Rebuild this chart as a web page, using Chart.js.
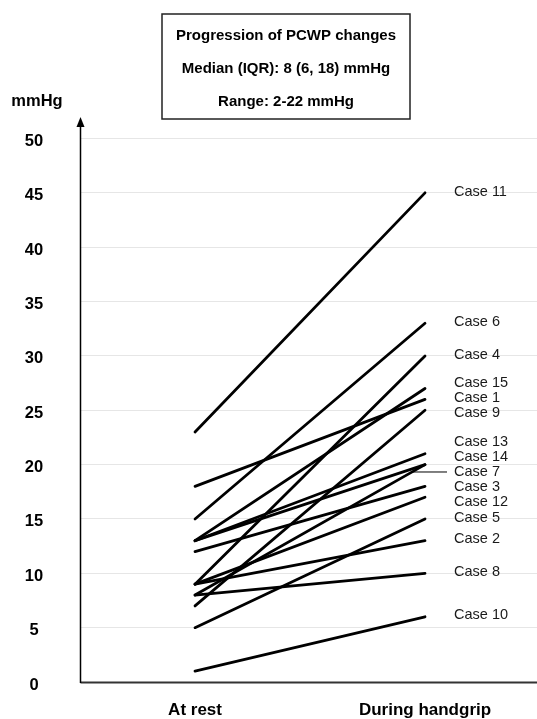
<!DOCTYPE html>
<html>
<head>
<meta charset="utf-8">
<script src="https://cdn.jsdelivr.net/npm/chart.js@4"></script>
<style>
  html, body { margin: 0; padding: 0; background: #fff; overflow: hidden; }
  #wrap { width: 537px; height: 719px; position: relative; }
</style>
</head>
<body>
<div id="wrap"><canvas id="chart"></canvas></div>
<script>
const stages = ['At rest', 'During handgrip'];
const cases = ['Case 1', 'Case 2', 'Case 3', 'Case 4', 'Case 5', 'Case 6', 'Case 7', 'Case 8',
  'Case 9', 'Case 10', 'Case 11', 'Case 12', 'Case 13', 'Case 14', 'Case 15'];
const atRest = [18, 9, 12, 9, 5, 15, 8, 8, 7, 1, 23, 9, 13, 13, 13];
const duringHandgrip = [26, 13, 18, 30, 15, 33, 20, 10, 25, 6, 45, 17, 21, 20, 27];
const yTicks = [0, 5, 10, 15, 20, 25, 30, 35, 40, 45, 50];
const titleLines = ['Progression of PCWP changes', 'Median (IQR): 8 (6, 18) mmHg', 'Range: 2-22 mmHg'];
const yUnit = 'mmHg';
const leaderCases = ['Case 7'];

const FONT = "'Liberation Sans', Arial, sans-serif";

const datasets = cases.map((name, i) => ({
  label: name,
  data: [{ x: 0, y: atRest[i] }, { x: 1, y: duringHandgrip[i] }],
  borderColor: '#000',
  borderWidth: 2.8,
  borderCapStyle: 'round',
  pointRadius: 0,
  fill: false,
  clip: false
}));

const decorations = {
  id: 'decorations',
  afterDraw(chart) {
    const ctx = chart.ctx;
    const { left, right, top, bottom } = chart.chartArea;
    const xs = chart.scales.x, ys = chart.scales.y;
    ctx.save();

    // x axis
    ctx.strokeStyle = '#333';
    ctx.lineWidth = 2;
    ctx.beginPath();
    ctx.moveTo(left, bottom + 0.5);
    ctx.lineTo(right, bottom + 0.5);
    ctx.stroke();

    // y axis with arrow
    ctx.strokeStyle = '#000';
    ctx.lineWidth = 1.5;
    ctx.beginPath();
    ctx.moveTo(left, bottom + 1);
    ctx.lineTo(left, 124);
    ctx.stroke();
    ctx.fillStyle = '#000';
    ctx.beginPath();
    ctx.moveTo(left, 117);
    ctx.lineTo(left - 4, 127);
    ctx.lineTo(left + 4, 127);
    ctx.closePath();
    ctx.fill();

    ctx.textAlign = 'center';
    ctx.textBaseline = 'middle';

    // y tick labels and unit
    ctx.font = 'bold 16.5px ' + FONT;
    yTicks.forEach(v => ctx.fillText(String(v), 34, ys.getPixelForValue(v) + 3));
    ctx.fillText(yUnit, 37, 101);

    // x category labels
    ctx.font = 'bold 17px ' + FONT;
    stages.forEach((s, i) => ctx.fillText(s, xs.getPixelForValue(i), bottom + 28));

    // title box
    ctx.lineWidth = 1.5;
    ctx.strokeStyle = '#222';
    ctx.strokeRect(162, 14, 248, 105);
    ctx.font = 'bold 15px ' + FONT;
    titleLines.forEach((t, i) => ctx.fillText(t, 286, 36 + i * 33));

    // case labels, spread so they do not overlap
    const gap = 15;
    const order = cases.map((c, i) => i).sort((a, b) =>
      (duringHandgrip[b] - duringHandgrip[a]) || (atRest[b] - atRest[a]));
    const blocks = [];
    order.forEach(i => {
      const target = ys.getPixelForValue(duringHandgrip[i]);
      let blk = { items: [i], targets: [target], top: target };
      while (blocks.length) {
        const prev = blocks[blocks.length - 1];
        if (prev.top + prev.items.length * gap > blk.top) {
          blocks.pop();
          const items = prev.items.concat(blk.items);
          const targets = prev.targets.concat(blk.targets);
          const mean = targets.reduce((s, v) => s + v, 0) / targets.length;
          blk = { items, targets, top: mean - (items.length - 1) * gap / 2 };
        } else break;
      }
      blocks.push(blk);
    });
    const x0 = xs.getPixelForValue(0), x1 = xs.getPixelForValue(1);
    const labelX = x1 + 29;
    ctx.font = '14.5px ' + FONT;
    ctx.fillStyle = '#1a1a1a';
    ctx.textAlign = 'left';
    blocks.forEach(b => b.items.forEach((i, k) => {
      const ly = b.top + k * gap - 1.3;
      ctx.fillText(cases[i], labelX, ly);
      if (leaderCases.includes(cases[i])) {
        const v = ys.getValueForPixel(ly);
        const frac = (v - atRest[i]) / (duringHandgrip[i] - atRest[i]);
        const lx = x0 + frac * (x1 - x0);
        ctx.strokeStyle = '#000';
        ctx.lineWidth = 1;
        ctx.beginPath();
        ctx.moveTo(lx, ly);
        ctx.lineTo(labelX - 7, ly);
        ctx.stroke();
      }
    }));
    ctx.restore();
  }
};

new Chart(document.getElementById('chart'), {
  type: 'line',
  data: { datasets },
  options: {
    responsive: true,
    maintainAspectRatio: false,
    animation: false,
    layout: { padding: { top: 138.5, left: 80.5, right: 0, bottom: 37 } },
    plugins: { legend: { display: false }, tooltip: { enabled: false } },
    scales: {
      x: {
        type: 'linear',
        display: false,
        min: -0.498,
        max: 1.487
      },
      y: {
        min: 0,
        max: 50,
        afterBuildTicks: s => { s.ticks = yTicks.map(v => ({ value: v })); },
        grid: { color: '#e6e6e6', lineWidth: 1, drawTicks: false },
        border: { display: false },
        ticks: { display: false }
      }
    }
  },
  plugins: [decorations]
});
</script>
</body>
</html>
